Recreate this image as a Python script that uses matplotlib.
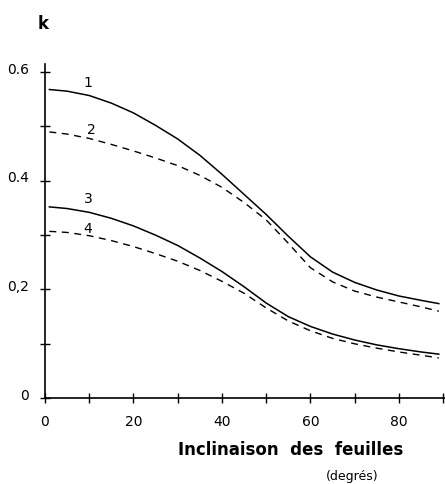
import matplotlib
matplotlib.use("Agg")
import matplotlib.pyplot as plt
import matplotlib.transforms as mtransforms

# inclinaison des feuilles (degres)
angles = [1, 5, 10, 15, 20, 25, 30, 35, 40, 45, 50, 55, 60, 65, 70, 75, 80, 85, 89]

k1 = [0.568, 0.565, 0.557, 0.543, 0.525, 0.502, 0.477, 0.447, 0.412, 0.375,
      0.338, 0.298, 0.260, 0.232, 0.213, 0.199, 0.188, 0.180, 0.174]
k2 = [0.490, 0.486, 0.478, 0.467, 0.455, 0.442, 0.428, 0.410, 0.388, 0.360,
      0.328, 0.285, 0.240, 0.214, 0.197, 0.186, 0.177, 0.168, 0.160]
k3 = [0.352, 0.349, 0.342, 0.331, 0.317, 0.300, 0.281, 0.258, 0.233, 0.205,
      0.175, 0.150, 0.132, 0.118, 0.107, 0.098, 0.091, 0.085, 0.081]
k4 = [0.307, 0.305, 0.299, 0.290, 0.279, 0.266, 0.252, 0.235, 0.215, 0.193,
      0.166, 0.142, 0.124, 0.110, 0.100, 0.092, 0.085, 0.079, 0.074]

courbes = [("1", k1, "-"), ("2", k2, "--"), ("3", k3, "-"), ("4", k4, "--")]
etiquettes = {"1": (9.7, 0.582), "2": (10.6, 0.495), "3": (9.9, 0.368), "4": (9.7, 0.313)}

xticks = [0, 10, 20, 30, 40, 50, 60, 70, 80, 90]
xticklabels = ["0", "", "20", "", "40", "", "60", "", "80", ""]
yticks = [0, 0.1, 0.2, 0.3, 0.4, 0.5, 0.6]
yticklabels = ["0", "", "0,2", "", "0.4", "", "0.6"]

fig = plt.figure(figsize=(4.45, 4.85), dpi=100)
ax = fig.add_axes([0.101, 0.177, 0.9, 0.689])

for nom, k, style in courbes:
    if style == "--":
        ax.plot(angles, k, color="black", lw=1.0, linestyle=(0, (5, 4)))
    else:
        ax.plot(angles, k, color="black", lw=1.1)
    ax.text(etiquettes[nom][0], etiquettes[nom][1], nom, fontsize=10,
            ha="center", va="center")

ax.set_xlim(0, 90.5)
ax.set_ylim(0, 0.615)
ax.set_xticks(xticks)
ax.set_xticklabels(xticklabels, fontsize=10)
ax.set_yticks(yticks)
ax.set_yticklabels(yticklabels, fontsize=10)
ax.tick_params(direction="inout", length=7, width=1.0, color="black")
ax.tick_params(axis="x", pad=8)
ax.tick_params(axis="y", pad=8)

offset = mtransforms.ScaledTranslation(0, 0.05, fig.dpi_scale_trans)
for lab in ax.get_yticklabels():
    lab.set_transform(lab.get_transform() + offset)

for s in ["top", "right"]:
    ax.spines[s].set_visible(False)
ax.spines["left"].set_linewidth(1.2)
ax.spines["bottom"].set_linewidth(1.2)

fig.text(43 / 445, 1 - 24 / 485, "k", fontsize=12, fontweight="bold",
         ha="center", va="center")
fig.text(291 / 445, 1 - 450 / 485, "Inclinaison  des  feuilles", fontsize=12,
         fontweight="bold", ha="center", va="center")
fig.text(352 / 445, 1 - 477 / 485, "(degrés)", fontsize=9,
         ha="center", va="center")

fig.savefig("out.png", dpi=100)
